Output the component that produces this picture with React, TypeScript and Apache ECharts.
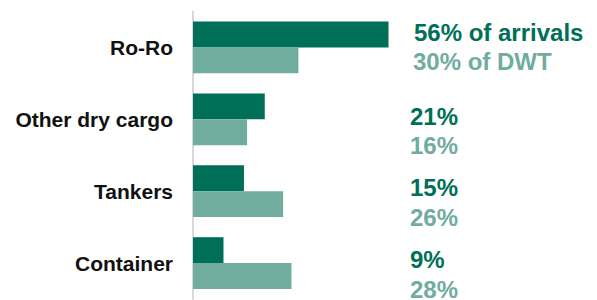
import React, { useEffect, useRef } from "react";
import * as echarts from "echarts";

const categories = ["Ro-Ro", "Other dry cargo", "Tankers", "Container"];
const arrivalsShare = [56.4, 20.7, 14.7, 8.8];
const dwtShare = [30.4, 15.6, 26.0, 28.4];

const DARK = "#006F58";
const LIGHT = "#70AD9E";
const FONT = "Liberation Sans, Arial, sans-serif";

export default function App() {
  const ref = useRef<HTMLDivElement>(null);
  useEffect(() => {
    if (!ref.current) return;
    const chart = echarts.init(ref.current, null, { renderer: "svg" });
    const fmtPct = (v: number) => `${Math.round(v)}%`;
    chart.setOption({
      animation: false,
      backgroundColor: "#ffffff",
      textStyle: { fontFamily: FONT },
      grid: { left: 193, right: 196, top: 11.5, bottom: -9.5, containLabel: false },
      xAxis: {
        type: "value",
        min: 0,
        max: 60,
        show: false,
      },
      yAxis: [
        {
          type: "category",
          data: categories,
          inverse: true,
          axisLine: { show: true, lineStyle: { color: "#D9D9D9", width: 2 } },
          axisTick: { show: false },
          splitLine: { show: false },
          axisLabel: {
            margin: 20,
            color: "#111111",
            fontSize: 21,
            fontWeight: "bold",
            fontFamily: FONT,
          },
        },
        {
          type: "category",
          data: categories,
          inverse: true,
          position: "right",
          axisLine: { show: false },
          axisTick: { show: false },
          splitLine: { show: false },
          axisLabel: {
            margin: 9,
            align: "left",
            formatter: (_v: string, i: number) => {
              if (i === 0) {
                return `{a0|${fmtPct(arrivalsShare[i])} of arrivals}\n{b0|${fmtPct(dwtShare[i])} of DWT}`;
              }
              return `{s| }\n{a|${fmtPct(arrivalsShare[i])}}\n{b|${fmtPct(dwtShare[i])}}`;
            },
            rich: {
              a0: { color: DARK, fontSize: 24, fontWeight: "bold", lineHeight: 29, padding: [0, 0, 0, 4], fontFamily: FONT },
              b0: { color: LIGHT, fontSize: 24, fontWeight: "bold", lineHeight: 29, padding: [0, 0, 0, 3], fontFamily: FONT },
              s: { fontSize: 8, lineHeight: 23, fontFamily: FONT },
              a: { color: DARK, fontSize: 24, fontWeight: "bold", lineHeight: 29.5, fontFamily: FONT },
              b: { color: LIGHT, fontSize: 24, fontWeight: "bold", lineHeight: 29.5, fontFamily: FONT },
            },
          },
        },
      ],
      series: [
        {
          name: "Arrivals",
          type: "bar",
          data: arrivalsShare,
          yAxisIndex: 0,
          barGap: "0%",
          barCategoryGap: "28%",
          itemStyle: { color: DARK },
        },
        {
          name: "DWT",
          type: "bar",
          data: dwtShare,
          yAxisIndex: 0,
          barGap: "0%",
          barCategoryGap: "28%",
          itemStyle: { color: LIGHT },
        },
      ],
    });
    return () => chart.dispose();
  }, []);
  return (
    <div
      ref={ref}
      style={{ position: "fixed", left: 0, top: 0, width: 597, height: 300, background: "#fff" }}
    />
  );
}
